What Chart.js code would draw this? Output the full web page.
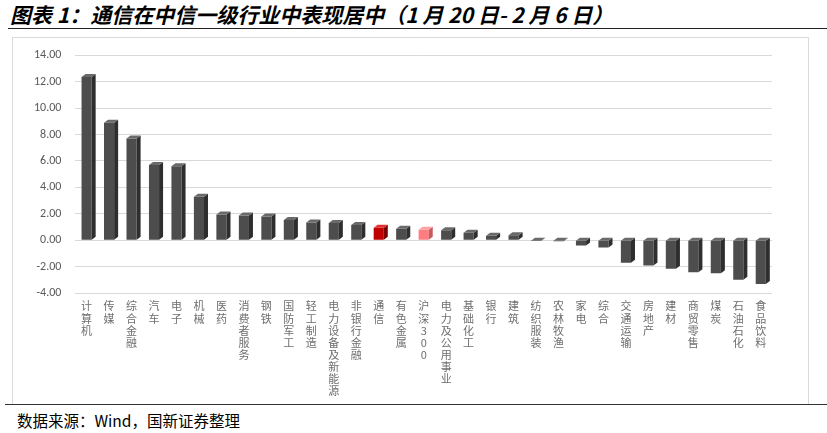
<!DOCTYPE html>
<html>
<head>
	<meta charset="utf-8">
	<title>通信在中信一级行业中表现居中</title>
	<script src="https://cdn.jsdelivr.net/npm/chart.js"></script>
	<style>
		body {
			margin: 0;
			width: 827px;
			height: 433px;
			background: #fff;
			font-family: "Noto Sans CJK SC", sans-serif;
			position: relative;
			overflow: hidden;
		}
		#title {
			position: absolute;
			left: 10px;
			top: 0px;
			font-size: 21px;
			line-height: 28px;
			font-weight: bold;
			font-style: italic;
			color: #000;
			white-space: nowrap;
		}
		#titleLine {
			position: absolute;
			left: 8px;
			right: 0;
			top: 28px;
			border-top: 1.5px solid #222;
		}
		#box {
			position: absolute;
			left: 12px;
			top: 37px;
			width: 795px;
			height: 366px;
			border: 1px solid #d9d9d9;
			border-bottom: none;
		}
		#myChart {
			position: absolute;
			left: 0;
			top: -4px;
		}
		#footLine {
			position: absolute;
			left: 5px;
			right: 0;
			top: 404px;
			border-top: 1.5px solid #333;
		}
		#source {
			position: absolute;
			left: 17px;
			top: 409px;
			font-size: 15.5px;
			color: #000;
		}
	</style>
</head>
<body>
	<div id="title">图表 1：通信在中信一级行业中表现居中（1 月 20 日- 2 月 6 日）</div>
	<div id="titleLine"></div>
	<div id="box"><canvas id="myChart" width="795" height="370"></canvas></div>
	<div id="footLine"></div>
	<div id="source">数据来源：Wind，国新证券整理</div>
	<script>
		// industries, sorted by return (%)
		var categories = ['计算机', '传媒', '综合金融', '汽车', '电子', '机械', '医药', '消费者服务', '钢铁', '国防军工',
			'轻工制造', '电力设备及新能源', '非银行金融', '通信', '有色金属', '沪深300', '电力及公用事业', '基础化工', '银行', '建筑',
			'纺织服装', '农林牧渔', '家电', '综合', '交通运输', '房地产', '建材', '商贸零售', '煤炭', '石油石化', '食品饮料'];
		var returns = [12.35, 8.9, 7.7, 5.7, 5.6, 3.3, 1.95, 1.88, 1.8, 1.53,
			1.35, 1.3, 1.15, 0.95, 0.88, 0.8, 0.76, 0.58, 0.35, 0.38,
			-0.05, -0.08, -0.4, -0.55, -1.7, -1.9, -2.15, -2.42, -2.5, -2.98, -3.3];
		var yTicks = [-4, -2, 0, 2, 4, 6, 8, 10, 12, 14];

		// bar colours: 通信 highlighted red, 沪深300 pink
		function frontColor(name) {
			if (name === '通信') return '#c00000';
			if (name === '沪深300') return '#ff7c80';
			return '#4d4d4d';
		}
		function sideColor(name) {
			if (name === '通信') return '#7a0000';
			if (name === '沪深300') return '#c95a5e';
			return '#2e2e2e';
		}
		function topColor(name) {
			if (name === '通信') return '#e03030';
			if (name === '沪深300') return '#ffa0a3';
			return '#6a6a6a';
		}

		// fake 3D: draw a side and top face next to each bar
		var depthPlugin = {
			id: 'depth',
			afterDatasetsDraw: function(chart) {
				var ctx = chart.ctx;
				var meta = chart.getDatasetMeta(0);
				var dx = 4, dy = 3;
				meta.data.forEach(function(bar, i) {
					var p = bar.getProps(['x', 'y', 'base', 'width'], true);
					var left = p.x - p.width / 2, right = p.x + p.width / 2;
					var top = Math.min(p.y, p.base), bottom = Math.max(p.y, p.base);
					var name = categories[i];
					ctx.save();
					ctx.fillStyle = sideColor(name);
					ctx.beginPath();
					ctx.moveTo(right, top);
					ctx.lineTo(right + dx, top - dy);
					ctx.lineTo(right + dx, bottom - dy);
					ctx.lineTo(right, bottom);
					ctx.closePath();
					ctx.fill();
					ctx.fillStyle = topColor(name);
					ctx.beginPath();
					ctx.moveTo(left, top);
					ctx.lineTo(left + dx, top - dy);
					ctx.lineTo(right + dx, top - dy);
					ctx.lineTo(right, top);
					ctx.closePath();
					ctx.fill();
					ctx.restore();
				});
			}
		};

		var ctx = document.getElementById('myChart').getContext('2d');
		var chart = new Chart(ctx, {
			type: 'bar',
			data: {
				labels: categories,
				datasets: [{
					data: returns,
					backgroundColor: categories.map(frontColor),
					borderWidth: 0,
					barPercentage: 0.45,
					categoryPercentage: 1
				}]
			},
			options: {
				responsive: false,
				animation: false,
				layout: { padding: { left: 7, right: 36, top: 8, bottom: 0 } },
				plugins: {
					legend: { display: false },
					tooltip: { enabled: false }
				},
				scales: {
					x: {
						grid: { display: false, drawTicks: false },
						border: { display: false },
						ticks: {
							autoSkip: false,
							maxRotation: 0,
							minRotation: 0,
							padding: 7,
							color: '#6e6e6e',
							font: { family: '"Noto Sans CJK SC"', size: 11, lineHeight: 1.1 },
							callback: function(v, i) {
								return categories[i].split('');
							}
						}
					},
					y: {
						min: -4,
						max: 14,
						afterBuildTicks: function(axis) {
							axis.ticks = yTicks.map(function(v) { return { value: v }; });
						},
						grid: { color: '#d9d9d9', lineWidth: 1, drawTicks: false },
						border: { display: false },
						ticks: {
							padding: 14,
							color: '#595959',
							font: { family: 'Carlito, "Liberation Sans", sans-serif', size: 12 },
							callback: function(v) { return v.toFixed(2); }
						}
					}
				}
			},
			plugins: [depthPlugin]
		});
	</script>
</body>
</html>
